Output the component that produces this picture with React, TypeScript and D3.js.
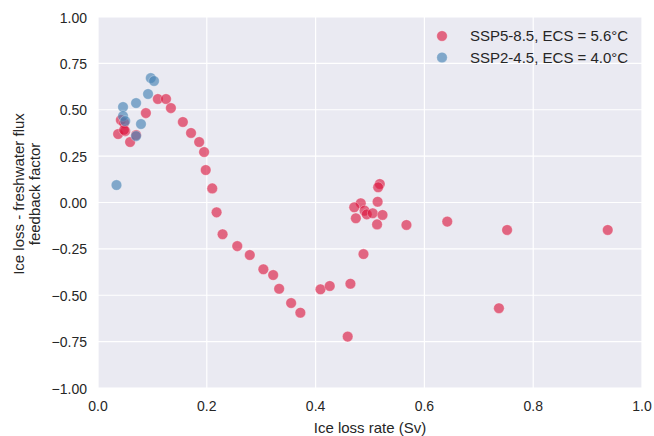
import React from "react";
import * as d3 from "d3";

const redX = [0.110, 0.125, 0.134, 0.088, 0.156, 0.171, 0.186, 0.195, 0.198, 0.210, 0.218, 0.229, 0.256, 0.279, 0.304, 0.322, 0.333, 0.355, 0.372, 0.409, 0.426, 0.464, 0.488, 0.459, 0.737, 0.752, 0.937, 0.642, 0.567, 0.518, 0.515, 0.483, 0.514, 0.471, 0.490, 0.494, 0.505, 0.523, 0.474, 0.513, 0.037, 0.042, 0.048, 0.050, 0.059, 0.070, 0.048];
const redY = [0.558, 0.558, 0.509, 0.482, 0.434, 0.375, 0.326, 0.272, 0.175, 0.076, -0.053, -0.171, -0.235, -0.283, -0.360, -0.391, -0.465, -0.542, -0.594, -0.468, -0.450, -0.438, -0.278, -0.723, -0.570, -0.148, -0.148, -0.103, -0.121, 0.100, 0.082, -0.004, 0.004, -0.026, -0.044, -0.064, -0.058, -0.067, -0.085, -0.118, 0.369, 0.445, 0.429, 0.385, 0.326, 0.364, 0.391];

const blueX = [0.097, 0.103, 0.092, 0.070, 0.046, 0.046, 0.050, 0.079, 0.070, 0.034];
const blueY = [0.671, 0.655, 0.585, 0.536, 0.515, 0.466, 0.439, 0.423, 0.358, 0.094];

const xTicks = [0, 0.2, 0.4, 0.6, 0.8, 1.0];
const yTicks = [-1, -0.75, -0.5, -0.25, 0, 0.25, 0.5, 0.75, 1];
const legendLabels = ["SSP5-8.5, ECS = 5.6°C", "SSP2-4.5, ECS = 4.0°C"];

const RED = "#DC143C";
const BLUE = "#4682B4";

export default function App() {
  const W = 654, H = 436;
  const left = 98, right = 642, top = 17, bottom = 388;
  const x = d3.scaleLinear().domain([0, 1]).range([left, right]);
  const y = d3.scaleLinear().domain([-1, 1]).range([bottom, top]);
  const fmtX = d3.format(".1f");
  const fmtY = (v: number) => d3.format(".2f")(v).replace("-", "\u2212");
  const font = "'Liberation Sans', Arial, sans-serif";
  const red = redX.map((v, i) => [v, redY[i]]);
  const blue = blueX.map((v, i) => [v, blueY[i]]);
  return (
    <svg width={W} height={H} style={{ position: "absolute", left: 0, top: 0 }} fontFamily={font}>
      <rect x={0} y={0} width={W} height={H} fill="#fff" />
      <rect x={left} y={top} width={right - left} height={bottom - top} fill="#EAEAF2" />
      {xTicks.map((t) => (
        <line key={"gx" + t} x1={x(t)} x2={x(t)} y1={top} y2={bottom} stroke="#fff" strokeWidth={1.2} />
      ))}
      {yTicks.map((t) => (
        <line key={"gy" + t} x1={left} x2={right} y1={y(t)} y2={y(t)} stroke="#fff" strokeWidth={1.2} />
      ))}
      {xTicks.map((t) => (
        <text key={"tx" + t} x={x(t)} y={411} textAnchor="middle" fontSize={14} fill="#262626">{fmtX(t)}</text>
      ))}
      {yTicks.map((t) => (
        <text key={"ty" + t} x={87} y={y(t) + 5.5} textAnchor="end" fontSize={14} fill="#262626">{fmtY(t)}</text>
      ))}
      <text x={(left + right) / 2} y={432.5} textAnchor="middle" fontSize={15} fill="#262626">Ice loss rate (Sv)</text>
      <g transform="translate(23.5,194) rotate(-90)">
        <text x={0} y={0} textAnchor="middle" fontSize={15} fill="#262626">Ice loss - freshwater flux</text>
        <text x={0} y={16} textAnchor="middle" fontSize={15} fill="#262626">feedback factor</text>
      </g>
      {red.map((d, i) => (
        <circle key={"r" + i} cx={x(d[0])} cy={y(d[1])} r={5.3} fill={RED} fillOpacity={0.62} stroke="#fff" strokeOpacity={0.6} strokeWidth={0.5} />
      ))}
      {blue.map((d, i) => (
        <circle key={"b" + i} cx={x(d[0])} cy={y(d[1])} r={5.3} fill={BLUE} fillOpacity={0.65} stroke="#fff" strokeOpacity={0.6} strokeWidth={0.5} />
      ))}
      {legendLabels.map((l, i) => (
        <g key={"l" + i}>
          <circle cx={442} cy={36 + i * 21.5} r={5.3} fill={i === 0 ? RED : BLUE} fillOpacity={i === 0 ? 0.62 : 0.65} stroke="#fff" strokeOpacity={0.6} strokeWidth={0.5} />
          <text x={470} y={36 + i * 21.5 + 5} fontSize={15} fill="#262626">{l}</text>
        </g>
      ))}
    </svg>
  );
}
